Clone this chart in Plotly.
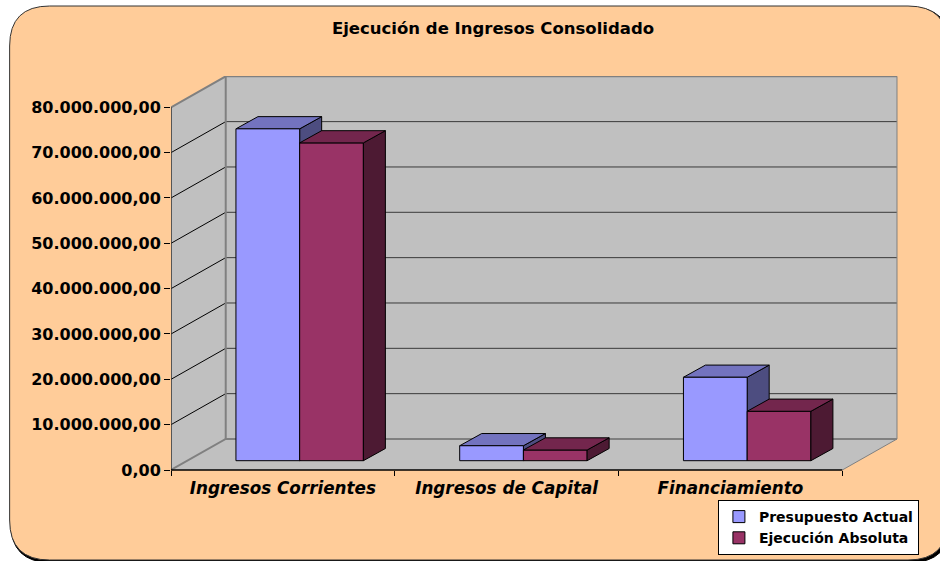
import plotly.graph_objects as go

categories = ["Ingresos Corrientes", "Ingresos de Capital", "Financiamiento"]
presupuesto = [73200000, 3300000, 18400000]
ejecucion = [70100000, 2360000, 10900000]
y_ticks = [0, 10000000, 20000000, 30000000, 40000000, 50000000, 60000000, 70000000, 80000000]
y_labels = ["0,00", "10.000.000,00", "20.000.000,00", "30.000.000,00", "40.000.000,00",
            "50.000.000,00", "60.000.000,00", "70.000.000,00", "80.000.000,00"]

W, H = 940, 561
L, T = 171.3, 76
FLOOR = 470
PX_X = 223.67
PX_Y = 362.7 / 80000000
DX = 54.7 / PX_X
DY = 31 / PX_Y
X_MAX = 3 + DX
Y_MAX = 80000000 + DY
X_RANGE = [0, (W - L) / PX_X]
Y_RANGE = [-(H - FLOOR) / PX_Y, (FLOOR - T) / PX_Y]
BAR_W = 63.7 / PX_X
BAR_C = 0.575
BAR_BASE = 9.3 / PX_Y
BDX = 22 / PX_X
BDY = 12.2 / PX_Y
FONT = "DejaVu Sans"
BLUE = ("#9999FF", "#7373BF", "#4D4D80")
RED = ("#993366", "#73264D", "#4D1A33")


def poly(x, y, fill, line=None, width=1, xa="x", ya="y"):
    return go.Scatter(x=x, y=y, mode="lines", fill="toself" if fill else None, fillcolor=fill,
                      line=dict(color=line or "rgba(0,0,0,0)", width=width), xaxis=xa, yaxis=ya,
                      hoverinfo="skip", showlegend=False, cliponaxis=False)


def seg(x, y, color, width=1):
    return go.Scatter(x=x, y=y, mode="lines", line=dict(color=color, width=width),
                      hoverinfo="skip", showlegend=False, cliponaxis=False)


def faces(values, start, colors, xa, ya):
    tx, ty, sx, sy = [], [], [], []
    for i, v in enumerate(values):
        l = i + BAR_C + start * BAR_W
        r = l + BAR_W
        b = BAR_BASE
        t = b + v
        tx += [l, r, r + BDX, l + BDX, l, None]
        ty += [t, t, t + BDY, t + BDY, t, None]
        sx += [r, r + BDX, r + BDX, r, r, None]
        sy += [b, b + BDY, t + BDY, t, b, None]
    return [poly(sx, sy, colors[2], "#000000", 1, xa, ya), poly(tx, ty, colors[1], "#000000", 1, xa, ya)]


fig = go.Figure()
# walls and floor
fig.add_trace(poly([0, DX, DX, 0, 0], [0, DY, Y_MAX, 80000000, 0], "#C0C0C0"))
fig.add_trace(poly([DX, X_MAX, X_MAX, DX, DX], [DY, DY, Y_MAX, Y_MAX, DY], "#C0C0C0"))
fig.add_trace(poly([0, 3, X_MAX, DX, 0], [0, 0, DY, DY, 0], "#C0C0C0"))
# gridlines
for v in y_ticks[1:-1]:
    fig.add_trace(seg([DX, X_MAX], [v + DY, v + DY], "#3A3A3A", 1))
    fig.add_trace(seg([0, DX], [v, v + DY], "#000000", 1))
# wall edges
fig.add_trace(seg([0, DX, X_MAX], [80000000, Y_MAX, Y_MAX], "#808080", 2))
fig.add_trace(seg([0, DX, X_MAX], [0, DY, DY], "#808080", 2))
fig.add_trace(seg([DX, DX], [DY, Y_MAX], "#808080", 2))
fig.add_trace(seg([X_MAX, X_MAX], [DY, Y_MAX], "#808080", 1))
fig.add_trace(seg([3, X_MAX], [0, DY], "#808080", 1))
# axis lines
fig.add_trace(seg([0, 0], [0, 80000000], "#333333", 1.5))
fig.add_trace(seg([0, 3], [0, 0], "#000000", 1.5))
# blue depth faces sit under the front faces of both series
for tr in faces(presupuesto, -1, BLUE, "x", "y"):
    fig.add_trace(tr)
# front faces
pos = [i + BAR_C for i in range(3)]
fig.add_trace(go.Bar(name="Presupuesto Actual", x=pos, y=presupuesto, base=BAR_BASE, width=BAR_W, offset=-BAR_W,
                     marker=dict(color=BLUE[0], line=dict(color="#000000", width=1)), xaxis="x2", yaxis="y2",
                     hoverinfo="skip"))
fig.add_trace(go.Bar(name="Ejecución Absoluta", x=pos, y=ejecucion, base=BAR_BASE, width=BAR_W, offset=0,
                     marker=dict(color=RED[0], line=dict(color="#000000", width=1)), xaxis="x2", yaxis="y2",
                     hoverinfo="skip"))
for tr in faces(ejecucion, 0, RED, "x2", "y2"):
    fig.add_trace(tr)


def px(x):
    return (x - L) / (W - L)


def py(y):
    return 1 - (y - T) / (H - T)


def rounded(x0, y0, x1, y1, r):
    return (f"M {px(x0 + r)} {py(y0)} L {px(x1 - r)} {py(y0)} Q {px(x1)} {py(y0)} {px(x1)} {py(y0 + r)} "
            f"L {px(x1)} {py(y1 - r)} Q {px(x1)} {py(y1)} {px(x1 - r)} {py(y1)} "
            f"L {px(x0 + r)} {py(y1)} Q {px(x0)} {py(y1)} {px(x0)} {py(y1 - r)} "
            f"L {px(x0)} {py(y0 + r)} Q {px(x0)} {py(y0)} {px(x0 + r)} {py(y0)} Z")


fig.update_layout(
    width=W, height=H, margin=dict(l=L, r=0, t=T, b=0),
    paper_bgcolor="#FFFFFF", plot_bgcolor="rgba(0,0,0,0)", barmode="overlay",
    title=dict(text="<b>Ejecución de Ingresos Consolidado</b>", x=493 / W, y=1 - 28.5 / H, xanchor="center",
               yanchor="middle", xref="container", yref="container",
               font=dict(family=FONT, size=16.5, color="#000000")),
    xaxis=dict(range=X_RANGE, anchor="free", position=py(FLOOR), tickmode="array", tickvals=[0.5, 1.5, 2.5],
               ticktext=categories, ticks="", tickangle=0,
               showgrid=False, zeroline=False, showline=False, ticklabelstandoff=6,
               tickfont=dict(family=FONT, size=16.8, color="#000000", weight="bold", style="italic"),
               minor=dict(tickmode="array", tickvals=[0, 1, 2, 3], ticks="outside", ticklen=5, tickcolor="#000000",
                          tickwidth=1, showgrid=False)),
    yaxis=dict(range=Y_RANGE, tickmode="array", tickvals=y_ticks, ticktext=y_labels, ticks="outside", ticklen=6,
               tickcolor="#000000", showgrid=False, zeroline=False, showline=False,
               tickfont=dict(family=FONT, size=16, color="#000000", weight="bold")),
    xaxis2=dict(range=X_RANGE, overlaying="x", matches="x", visible=False),
    yaxis2=dict(range=Y_RANGE, overlaying="y", matches="y", visible=False),
    legend=dict(x=px(718), y=py(500), xanchor="left", yanchor="top",
                bgcolor="#FFFFFF", bordercolor="#000000",
                borderwidth=1, font=dict(family=FONT, size=14, color="#000000", weight="bold"),
                itemwidth=30, tracegroupgap=0, entrywidth=173, entrywidthmode="pixels"),
    shapes=[
        dict(type="path", xref="paper", yref="paper", layer="below", path=rounded(11, 7, 950, 562.5, 40),
             fillcolor="#000000", line=dict(color="#000000", width=1)),
        dict(type="path", xref="paper", yref="paper", layer="below", path=rounded(10, 6, 948, 560, 40),
             fillcolor="#FFCC99", line=dict(color="#333333", width=1)),
    ],
)

fig.write_html("out.html", config=dict(displayModeBar=False),
               post_script="document.body.style.margin='0';document.body.style.overflow='hidden';")
